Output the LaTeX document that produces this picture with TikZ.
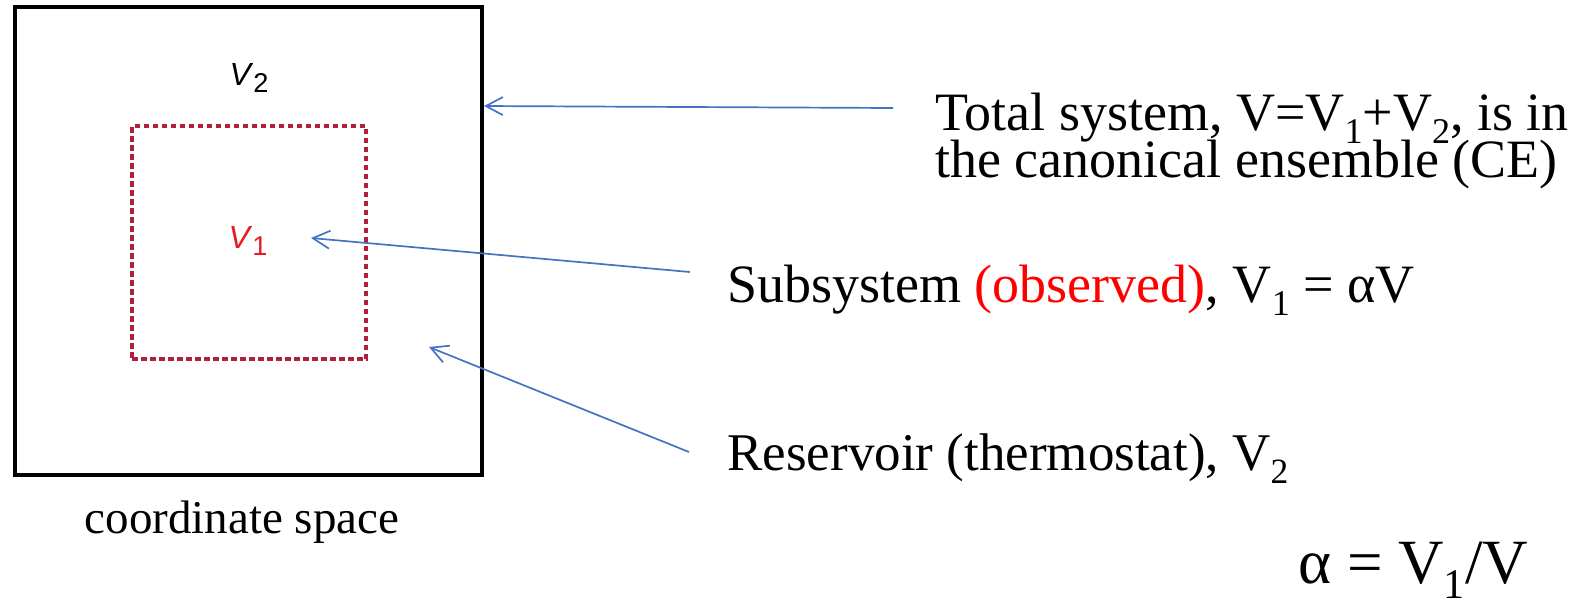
\documentclass[tikz,border=0pt]{standalone}
\usepackage{fontspec}
\setmainfont{Liberation Serif}
\newfontfamily\arialfont{Liberation Sans}
\usetikzlibrary{arrows.meta}
\definecolor{arrowblue}{RGB}{68,114,196}
\definecolor{dashred}{RGB}{176,32,58}
\definecolor{vred}{RGB}{228,28,36}
\definecolor{obsred}{RGB}{255,0,0}
\newcommand\sbs[1]{\raisebox{-0.25em}{\scalebox{0.67}{#1}}}
\newcommand\vsub[1]{\raisebox{-0.22em}{\scalebox{0.85}{#1}}}
\newcommand\tightlines{\lineskiplimit=-30pt\relax}
\tikzset{
  outerbox/.style={draw=black, line width=1.6pt, inner sep=0pt, minimum width=233.5pt, minimum height=234pt},
  innerbox/.style={draw=dashred, line width=1.7pt, dash pattern=on 2.75pt off 1.75pt, inner sep=0pt, minimum width=117pt, minimum height=116.5pt},
  vlabel/.style={font=\arialfont\fontsize{16}{19}\selectfont, inner sep=0pt},
  bigtext/.style={font=\fontsize{26.5}{23.5}\selectfont, inner sep=0pt, anchor=base west},
  pointer/.style={draw=arrowblue, line width=0.85pt, -{Straight Barb[length=8.5pt,width=9pt]}}
}
\begin{document}
\begin{tikzpicture}[x=0.5pt,y=-0.5pt]
\useasboundingbox (0,0) rectangle (1572,601);
\node[outerbox] (space) at (248.5,241) {};
\node[innerbox] (sub) at (249,242.5) {};
\node[vlabel] (v2) at (249,78) {\textit{V}\vsub{2}};
\node[vlabel, text=vred] (v1) at (248,241) {\textit{V}\vsub{1}};
\node[bigtext, align=left, font={\fontsize{27}{23.5}\selectfont\tightlines}] (total) at (935,177) {Total system, V=V\sbs{1}+V\sbs{2}, is in\\the canonical ensemble (CE)};
\node[bigtext, font=\fontsize{27}{23.5}\selectfont] (subsys) at (727,302) {Subsystem \textcolor{obsred}{(observed)}, V\sbs{1} = αV};
\node[bigtext] (res) at (727,470) {Reservoir (thermostat), V\sbs{2}};
\node[font=\fontsize{23.5}{28}\selectfont, inner sep=0pt, anchor=base] (cs) at (242,533) {coordinate space};
\node[font=\fontsize{31.5}{36}\selectfont, inner sep=0pt, anchor=base west] (alpha) at (1298,583) {α = V\sbs{1}/V};
\coordinate (t1) at (893,108);
\coordinate (h1) at (484,106);
\coordinate (t2) at (690,272);
\coordinate (h2) at (311,238);
\coordinate (t3) at (689,452);
\coordinate (h3) at (429,347);
\draw[pointer] (t1) -- (h1);
\draw[pointer] (t2) -- (h2);
\draw[pointer] (t3) -- (h3);
\end{tikzpicture}
\end{document}
